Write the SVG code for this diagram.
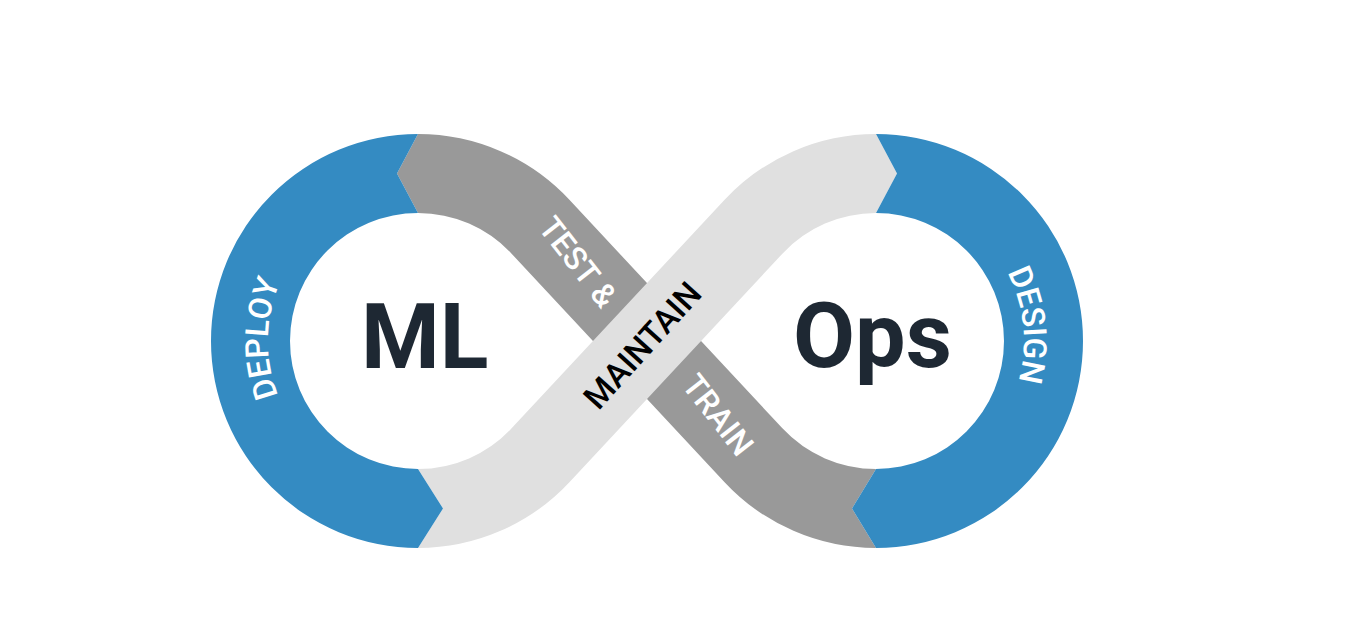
<svg xmlns="http://www.w3.org/2000/svg" width="1360" height="643" viewBox="0 0 1360 643">
<style>
.blue{fill:#348BC2}
.gray{fill:#999999}
.light{fill:#E0E0E0}
.lbl{font-family:Roboto,"Liberation Sans",sans-serif;font-size:32px;font-weight:500}
.w{fill:#FFFFFF}
.k{fill:#000000}
.big{font-family:Roboto,"Liberation Sans",sans-serif;font-weight:bold;font-size:90px;fill:#1E2833}
</style>
<defs>
<path id="arcDeploy" d="M 418,491 A 150 150 0 0 1 418,191"/>
<path id="arcDesign" d="M 876,193 A 148 148 0 0 1 876,489"/>
</defs>
<rect width="1360" height="643" fill="#FFFFFF"/>
<g id="train-test">
<path class="gray" d="M 418,134 A 207 207 0 0 1 569.4,199.8 L 782.4,428.3 A 128 128 0 0 0 876,469 L 852,508.5 L 876,548 A 207 207 0 0 1 724.6,482.2 L 511.6,253.7 A 128 128 0 0 0 418,213 L 397,173.5 Z"/>
<text class="lbl w" text-anchor="middle" transform="translate(578,262) rotate(52)" y="11">TEST &amp;</text>
<text class="lbl w" text-anchor="middle" transform="translate(718,415) rotate(52)" y="11">TRAIN</text>
</g>
<g id="maintain">
<path class="light" d="M 418,548 A 207 207 0 0 0 569.4,482.2 L 782.4,253.7 A 128 128 0 0 1 876,213 L 897,173.5 L 876,134 A 207 207 0 0 0 724.6,199.8 L 511.6,428.3 A 128 128 0 0 1 418,469 L 443,508.5 Z"/>
<text class="lbl k" text-anchor="middle" transform="translate(642,345) rotate(-48)" y="12" style="font-size:33px">MAINTAIN</text>
</g>
<g id="deploy">
<path class="blue" d="M 418,134 A 207 207 0 0 0 418,548 L 443,508.5 L 418,469 A 128 128 0 0 1 418,213 L 397,173.5 Z"/>
<text class="lbl w"><textPath href="#arcDeploy" startOffset="50.5%" text-anchor="middle">DEPLOY</textPath></text>
</g>
<g id="design">
<path class="blue" d="M 876,134 A 207 207 0 0 1 876,548 L 852,508.5 L 876,469 A 128 128 0 0 0 876,213 L 897,173.5 Z"/>
<text class="lbl w"><textPath href="#arcDesign" startOffset="46.7%" text-anchor="middle">DESIGN</textPath></text>
</g>
<g id="ml">
<text class="big" x="361" y="368">ML</text>
</g>
<g id="ops">
<text class="big" x="793" y="367">Ops</text>
</g>
</svg>
